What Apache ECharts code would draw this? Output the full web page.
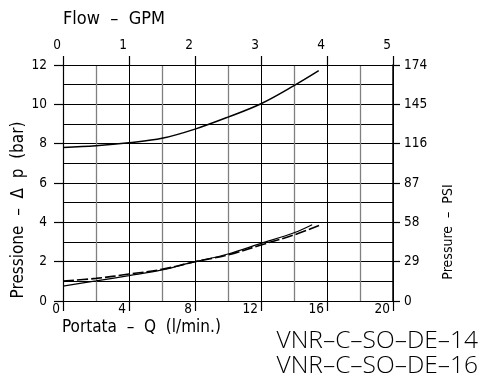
<!DOCTYPE html>
<html>
<head>
<meta charset="utf-8">
<script src="https://cdn.jsdelivr.net/npm/echarts@6/dist/echarts.min.js"></script>
<style>
  html, body { margin: 0; padding: 0; background: #fff; }
  #chart { width: 481px; height: 379px; }
</style>
</head>
<body>
<div id="chart"></div>
<script>
// Flow in l/min against pressure drop in bar
var flowLmin = [0, 2, 4, 6, 8, 10, 12, 14, 15.5];
var upperCurve = [7.81, 7.90, 8.05, 8.27, 8.74, 9.35, 10.03, 10.95, 11.71];

var lowerFlow = [0, 2, 4, 6, 8, 10, 12, 14, 15.1];
var lowerSolid = [0.76, 1.02, 1.29, 1.58, 2.0, 2.39, 2.93, 3.47, 3.88];

var dashedFlow = [0, 2, 4, 6, 8, 10, 12, 14, 15.7];
var lowerDashed = [1.02, 1.15, 1.37, 1.61, 2.0, 2.34, 2.85, 3.36, 3.9];

var barTicks = [0, 2, 4, 6, 8, 10, 12];
var psiTicks = [0, 29, 58, 87, 116, 145, 174];
var lminTicks = [0, 4, 8, 12, 16, 20];
var gpmTicks = [0, 1, 2, 3, 4, 5];

var modelNames = ['VNR\u2013C\u2013SO\u2013DE\u201314', 'VNR\u2013C\u2013SO\u2013DE\u201316'];

function pairs(xs, ys) {
  return xs.map(function (x, i) { return [x, ys[i]]; });
}

var FONT = '"Liberation Sans Narrow", "DejaVu Sans Condensed", sans-serif';
var MODEL_FONT = '"Open Sans", "DejaVu Sans", sans-serif';
var tickFont = { color: '#000', fontFamily: FONT, fontSize: 13.5 };

var chart = echarts.init(document.getElementById('chart'), null, { renderer: 'canvas' });

chart.setOption({
  animation: false,
  backgroundColor: '#fff',
  grid: { left: 63, right: 88, top: 65, bottom: 78, containLabel: false },
  xAxis: [
    {
      type: 'value', position: 'bottom',
      min: lminTicks[0], max: lminTicks[lminTicks.length - 1], interval: 4,
      axisLine: { show: true, onZero: false, lineStyle: { color: '#000', width: 1.2 } },
      axisTick: { show: true, inside: false, length: 10, lineStyle: { color: '#000', width: 1.2 } },
      axisLabel: Object.assign({ margin: 1, align: 'right', padding: [0, 3, 0, 0] }, tickFont),
      splitLine: { show: true, lineStyle: { color: '#000', width: 1 } },
      minorTick: { show: false, splitNumber: 2 },
      minorSplitLine: { show: true, lineStyle: { color: '#808080', width: 1.3 } }
    },
    {
      type: 'value', position: 'top',
      min: gpmTicks[0], max: gpmTicks[gpmTicks.length - 1], interval: 1,
      axisLine: { show: true, onZero: false, lineStyle: { color: '#000', width: 1.2 } },
      axisTick: { show: true, inside: false, length: 9, lineStyle: { color: '#000', width: 1.2 } },
      axisLabel: Object.assign({ margin: 13, align: 'right', padding: [0, 2, 0, 0] }, tickFont),
      splitLine: { show: false }
    }
  ],
  yAxis: [
    {
      type: 'value', position: 'left',
      min: barTicks[0], max: barTicks[barTicks.length - 1], interval: 2,
      axisLine: { show: true, onZero: false, lineStyle: { color: '#000', width: 1.2 } },
      axisTick: { show: true, inside: false, length: 9, lineStyle: { color: '#000', width: 1.2 } },
      axisLabel: Object.assign({ margin: 16 }, tickFont),
      splitLine: { show: true, lineStyle: { color: '#000', width: 1 } },
      minorTick: { show: false, splitNumber: 2 },
      minorSplitLine: { show: true, lineStyle: { color: '#000', width: 1 } }
    },
    {
      type: 'value', position: 'right',
      min: psiTicks[0], max: psiTicks[psiTicks.length - 1], interval: 29,
      axisLine: { show: true, onZero: false, lineStyle: { color: '#000', width: 1.5 } },
      axisTick: { show: true, inside: false, length: 7, lineStyle: { color: '#000', width: 1.2 } },
      axisLabel: Object.assign({ margin: 11 }, tickFont),
      splitLine: { show: false }
    }
  ],
  series: [
    {
      type: 'line', xAxisIndex: 0, yAxisIndex: 0, smooth: 0.35, symbol: 'none',
      data: pairs(flowLmin, upperCurve),
      lineStyle: { color: '#000', width: 1.5 }
    },
    {
      type: 'line', xAxisIndex: 0, yAxisIndex: 0, smooth: 0.35, symbol: 'none',
      data: pairs(lowerFlow, lowerSolid),
      lineStyle: { color: '#000', width: 1.2 }
    },
    {
      type: 'line', xAxisIndex: 0, yAxisIndex: 0, smooth: 0.35, symbol: 'none',
      data: pairs(dashedFlow, lowerDashed),
      lineStyle: { color: '#000', width: 1.6, type: [11, 3] }
    }
  ],
  graphic: [
    {
      type: 'text', left: 63, top: 10,
      style: { text: 'Flow  \u2013  GPM', fill: '#000', font: '18px ' + FONT }
    },
    {
      type: 'text', left: 62, top: 319,
      style: { text: 'Portata  \u2013  Q  (l/min.)', fill: '#000', font: '17px ' + FONT }
    },
    {
      type: 'text', x: 19, y: 210, rotation: Math.PI / 2,
      style: { text: 'Pressione  \u2013  \u0394  p  (bar)', fill: '#000', font: '17px ' + FONT, align: 'center', verticalAlign: 'middle' }
    },
    {
      type: 'text', x: 448, y: 232, rotation: Math.PI / 2,
      style: { text: 'Pressure  \u2013  PSI', fill: '#000', font: '14px ' + FONT, align: 'center', verticalAlign: 'middle' }
    },
    {
      type: 'text', right: 3, top: 329,
      style: { text: modelNames[0], fill: '#000', font: '300 24.5px ' + MODEL_FONT }
    },
    {
      type: 'text', right: 3, top: 354,
      style: { text: modelNames[1], fill: '#000', font: '300 24.5px ' + MODEL_FONT }
    }
  ]
});
</script>
</body>
</html>
